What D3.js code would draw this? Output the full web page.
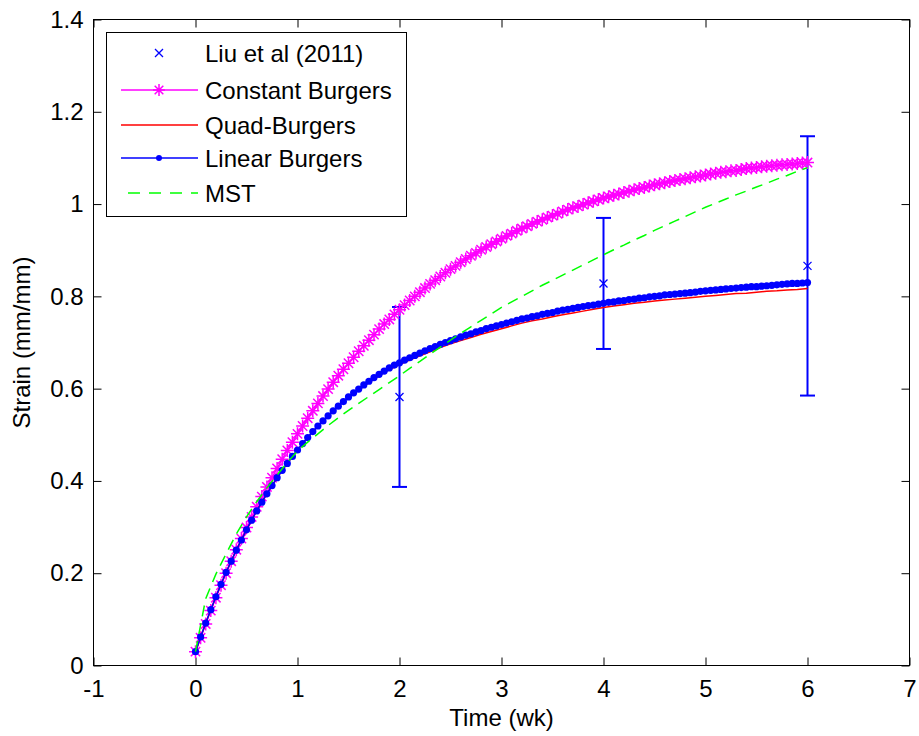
<!DOCTYPE html>
<html><head><meta charset="utf-8">
<script src="https://cdn.jsdelivr.net/npm/d3@7"></script>
<style>body{margin:0;background:#fff;} text{font-family:"Liberation Sans",Arial,sans-serif;}</style>
</head><body><svg id="c" width="919" height="736"></svg>
<script>
const liuTime = [2, 4, 6];
const liuMean = [0.582, 0.828, 0.866];
const liuErr = [0.195, 0.142, 0.281];
const fineStep = 0.05, coarseStep = 0.1;
const constantBurgers = [
0.030,0.060,0.090,0.119,0.147,0.174,0.200,0.226,0.251,0.275,
0.299,0.322,0.344,0.366,0.387,0.407,0.427,0.447,0.466,0.484,
0.502,0.519,0.536,0.552,0.568,0.584,0.599,0.614,0.628,0.642,
0.655,0.668,0.681,0.693,0.705,0.717,0.729,0.740,0.750,0.761,
0.771,0.781,0.791,0.800,0.809,0.818,0.827,0.835,0.843,0.851,
0.859,0.866,0.874,0.881,0.888,0.894,0.901,0.907,0.913,0.919,
0.925,0.931,0.936,0.942,0.947,0.952,0.957,0.962,0.966,0.971,
0.975,0.979,0.984,0.988,0.992,0.995,0.999,1.003,1.006,1.010,
1.013,1.016,1.019,1.022,1.025,1.028,1.031,1.034,1.036,1.039,
1.042,1.044,1.046,1.049,1.051,1.053,1.055,1.057,1.059,1.061,
1.063,1.065,1.067,1.069,1.070,1.072,1.073,1.075,1.077,1.078,
1.079,1.081,1.082,1.083,1.084,1.085,1.086,1.087,1.088,1.089,
1.090];
const linearBurgers = [
0.030,0.062,0.092,0.121,0.149,0.176,0.202,0.226,0.250,0.272,
0.294,0.315,0.335,0.354,0.372,0.390,0.407,0.423,0.438,0.453,
0.467,0.481,0.494,0.507,0.519,0.530,0.541,0.552,0.562,0.572,
0.582,0.591,0.599,0.608,0.616,0.624,0.631,0.638,0.645,0.651,
0.656,0.662,0.667,0.672,0.677,0.682,0.687,0.691,0.696,0.700,
0.704,0.708,0.712,0.716,0.719,0.723,0.726,0.730,0.733,0.736,
0.739,0.742,0.745,0.748,0.751,0.753,0.756,0.758,0.761,0.763,
0.765,0.768,0.770,0.772,0.774,0.776,0.778,0.780,0.781,0.783,
0.785,0.787,0.788,0.790,0.791,0.793,0.794,0.796,0.797,0.799,
0.800,0.801,0.803,0.804,0.805,0.806,0.807,0.808,0.809,0.811,
0.812,0.813,0.814,0.815,0.816,0.817,0.818,0.819,0.820,0.821,
0.821,0.822,0.823,0.824,0.825,0.826,0.827,0.828,0.828,0.829,
0.830];
const quadBurgers = [
0.030,0.092,0.149,0.202,0.250,0.294,0.335,0.372,0.407,0.438,
0.467,0.494,0.519,0.541,0.562,0.581,0.597,0.613,0.628,0.641,
0.652,0.662,0.671,0.680,0.689,0.697,0.704,0.711,0.718,0.724,
0.730,0.736,0.742,0.747,0.751,0.756,0.760,0.764,0.768,0.772,
0.776,0.779,0.782,0.785,0.787,0.790,0.792,0.794,0.796,0.798,
0.800,0.802,0.804,0.806,0.807,0.809,0.811,0.812,0.814,0.815,
0.817];
const mst = [
0.030,0.145,0.198,0.242,0.285,0.322,0.355,0.385,0.413,0.440,
0.465,0.484,0.502,0.520,0.537,0.553,0.568,0.583,0.598,0.613,
0.628,0.644,0.659,0.675,0.690,0.705,0.720,0.734,0.748,0.762,
0.776,0.788,0.800,0.812,0.824,0.835,0.846,0.857,0.868,0.879,
0.890,0.901,0.911,0.922,0.932,0.943,0.953,0.963,0.973,0.983,
0.993,1.002,1.011,1.020,1.028,1.037,1.045,1.054,1.062,1.071,
1.079];
const xTicks = [-1,0,1,2,3,4,5,6,7];
const yTicks = [0,0.2,0.4,0.6,0.8,1,1.2,1.4];
const legendLabels = ["Liu et al (2011)","Constant Burgers","Quad-Burgers","Linear Burgers","MST"];

const L=93.5,R=909.5,T=19.5,B=665.5;
const svg=d3.select("#c");
const x=d3.scaleLinear().domain([-1,7]).range([L,R]);
const y=d3.scaleLinear().domain([0,1.4]).range([B,T]);
const fs=24;

const fine = constantBurgers.map((v,i)=>({t:i*fineStep,v}));
const lin = linearBurgers.map((v,i)=>({t:i*fineStep,v}));
const quad = quadBurgers.map((v,i)=>({t:i*coarseStep,v}));
const ms = mst.map((v,i)=>({t:i*coarseStep,v}));
const line=d3.line().x(d=>x(d.t)).y(d=>y(d.v));

// axes
const gx=svg.append("g").attr("transform",`translate(0,${B})`)
 .call(d3.axisBottom(x).tickValues(xTicks).tickFormat(d=>String(d)).tickSizeInner(-8).tickSizeOuter(0).tickPadding(14));
const gy=svg.append("g").attr("transform",`translate(${L},0)`)
 .call(d3.axisLeft(y).tickValues(yTicks).tickFormat(d=>String(+d.toFixed(1))).tickSizeInner(-8).tickSizeOuter(0).tickPadding(10));
const gxt=svg.append("g").attr("transform",`translate(0,${T})`)
 .call(d3.axisTop(x).tickValues(xTicks).tickFormat("").tickSizeInner(-8).tickSizeOuter(0));
const gyr=svg.append("g").attr("transform",`translate(${R},0)`)
 .call(d3.axisRight(y).tickValues(yTicks).tickFormat("").tickSizeInner(-8).tickSizeOuter(0));
[gx,gy,gxt,gyr].forEach(g=>{g.select(".domain").remove();g.selectAll("line").attr("stroke","#000");
 g.selectAll("text").attr("font-size",fs).attr("fill","#000").attr("font-family","Liberation Sans, Arial, sans-serif");});
svg.append("rect").attr("x",L).attr("y",T).attr("width",R-L).attr("height",B-T).attr("fill","none").attr("stroke","#000");

svg.append("text").attr("x",(L+R)/2).attr("y",726).attr("text-anchor","middle").attr("font-size",fs).text("Time (wk)");
svg.append("text").attr("transform",`translate(30,${(T+B)/2}) rotate(-90)`).attr("text-anchor","middle").attr("font-size",fs).text("Strain (mm/mm)");

const plot=svg.append("g");
function xMark(g,cx,cy,s,col){g.append("path").attr("d",`M${cx-s},${cy-s}L${cx+s},${cy+s}M${cx-s},${cy+s}L${cx+s},${cy-s}`).attr("stroke",col).attr("stroke-width",1.3).attr("fill","none");}
function star(g,cx,cy,s,col){const d=s*0.72;g.append("path").attr("d",`M${cx},${cy-s}L${cx},${cy+s}M${cx-s},${cy}L${cx+s},${cy}M${cx-d},${cy-d}L${cx+d},${cy+d}M${cx-d},${cy+d}L${cx+d},${cy-d}`).attr("stroke",col).attr("stroke-width",1.5).attr("fill","none");}

// Liu error bars
liuTime.forEach((t,i)=>{
  const cx=x(t), y1=y(liuMean[i]-liuErr[i]), y2=y(liuMean[i]+liuErr[i]);
  plot.append("line").attr("x1",cx).attr("x2",cx).attr("y1",y1).attr("y2",y2).attr("stroke","#0000ff").attr("stroke-width",2);
  [y1,y2].forEach(yy=>plot.append("line").attr("x1",cx-7.5).attr("x2",cx+7.5).attr("y1",yy).attr("y2",yy).attr("stroke","#0000ff").attr("stroke-width",2));
  xMark(plot,cx,y(liuMean[i]),4,"#0000ff");
});
// Constant Burgers
plot.append("path").attr("d",line(fine)).attr("fill","none").attr("stroke","#ff00ff").attr("stroke-width",1.5);
fine.forEach(d=>star(plot,x(d.t),y(d.v),6.5,"#ff00ff"));
// Quad
plot.append("path").attr("d",line(quad)).attr("fill","none").attr("stroke","#ff0000").attr("stroke-width",1.5);
// Linear
plot.append("path").attr("d",line(lin)).attr("fill","none").attr("stroke","#0000ff").attr("stroke-width",1.5);
lin.forEach(d=>plot.append("circle").attr("cx",x(d.t)).attr("cy",y(d.v)).attr("r",3.6).attr("fill","#0000ff"));
// MST
plot.append("path").attr("d",line(ms)).attr("fill","none").attr("stroke","#00ff00").attr("stroke-width",1.5).attr("stroke-dasharray","11,7");

// legend
const lg=svg.append("g");
lg.append("rect").attr("x",106.5).attr("y",32.5).attr("width",300).attr("height",184).attr("fill","#fff").attr("stroke","#000");
const ly=[53,90,125,158,193];
legendLabels.forEach((lab,i)=>{
  const yy=ly[i];
  lg.append("text").attr("x",205).attr("y",yy).attr("dy","0.36em").attr("font-size",fs).text(lab);
  if(i===0){xMark(lg,159,yy,4,"#0000ff");}
  if(i===1){lg.append("line").attr("x1",121).attr("x2",198).attr("y1",yy).attr("y2",yy).attr("stroke","#ff00ff").attr("stroke-width",1.5);star(lg,159,yy,6,"#ff00ff");}
  if(i===2){lg.append("line").attr("x1",121).attr("x2",198).attr("y1",yy).attr("y2",yy).attr("stroke","#ff0000").attr("stroke-width",1.5);}
  if(i===3){lg.append("line").attr("x1",121).attr("x2",198).attr("y1",yy).attr("y2",yy).attr("stroke","#0000ff").attr("stroke-width",1.5);lg.append("circle").attr("cx",159).attr("cy",yy).attr("r",3).attr("fill","#0000ff");}
  if(i===4){lg.append("line").attr("x1",128).attr("x2",198).attr("y1",yy).attr("y2",yy).attr("stroke","#00ff00").attr("stroke-width",1.5).attr("stroke-dasharray","12,9");}
});
</script></body></html>
